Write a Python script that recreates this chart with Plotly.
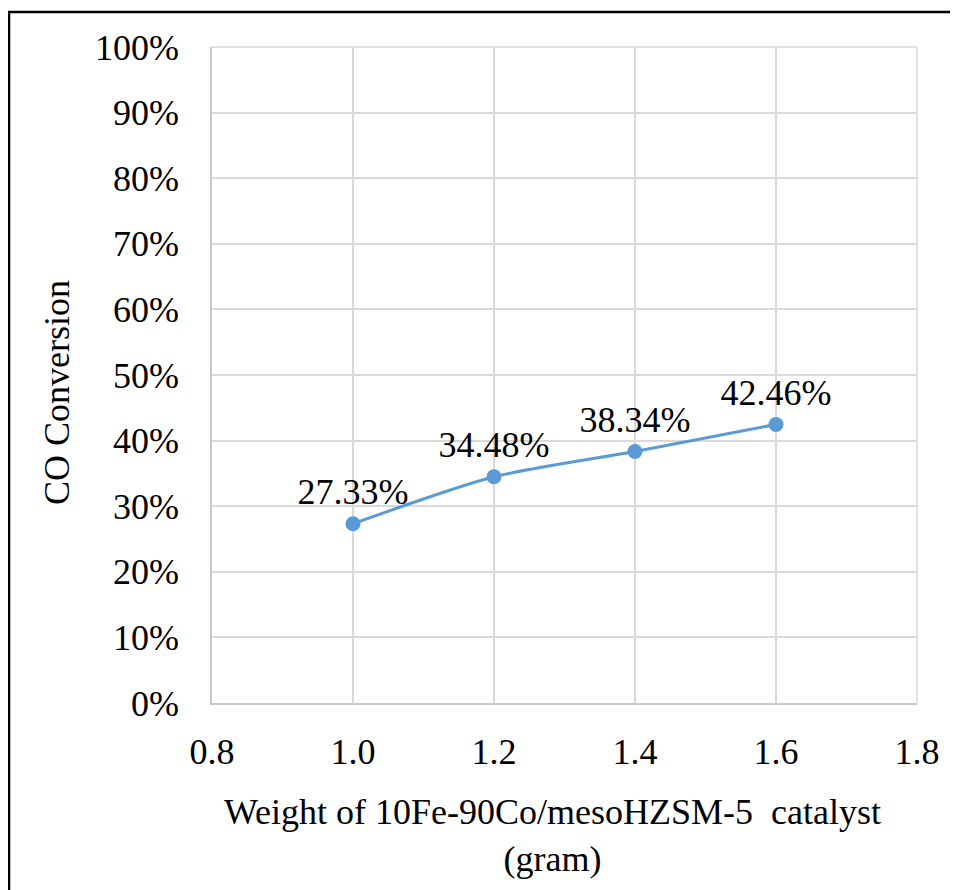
import plotly.graph_objects as go

weights = [1.0, 1.2, 1.4, 1.6]
conversion = [0.2733, 0.3448, 0.3834, 0.4246]
labels = ["27.33%", "34.48%", "38.34%", "42.46%"]
x_ticks = [0.8, 1.0, 1.2, 1.4, 1.6, 1.8]
x_ticktext = ["0.8", "1.0", "1.2", "1.4", "1.6", "1.8"]
y_ticks = [i / 10 for i in range(11)]
y_ticktext = [f"{i * 10}%" for i in range(11)]

FONT = "Times New Roman, Liberation Serif, serif"
BLUE = "#5B9BD5"
GRID = "#D9D9D9"

fig = go.Figure()
fig.add_trace(go.Scatter(
    x=weights, y=conversion,
    mode="lines+markers+text",
    line=dict(color=BLUE, width=3, shape="spline", smoothing=0.7),
    marker=dict(color=BLUE, size=15),
    text=labels, textposition="top center",
    textfont=dict(family=FONT, size=36, color="#000000"),
    cliponaxis=False,
    showlegend=False,
))

# page body has an 8px margin, so figure coords = screen coords - 8
OFF = 8
W, H = 950, 882
L, R, T, B = 212 - OFF, 41, 47 - OFF, 187
pw, ph = W - L - R, H - T - B

def px_x(px):
    return (px - OFF - L) / pw

def px_y(py):
    return (H - B - (py - OFF)) / ph

fig.update_layout(
    width=W, height=H,
    margin=dict(l=L, r=R, t=T, b=B),
    paper_bgcolor="white", plot_bgcolor="white",
    font=dict(family=FONT, size=36, color="#000000"),
    xaxis=dict(
        range=[0.8, 1.8], tickvals=x_ticks, ticktext=x_ticktext,
        showgrid=True, gridcolor=GRID, gridwidth=1.5,
        showline=True, linecolor="#C8C8C8", linewidth=1.5,
        zeroline=False, ticks="", ticklabelstandoff=16,
        tickfont=dict(family=FONT, size=36),
    ),
    yaxis=dict(
        range=[0, 1], tickvals=y_ticks, ticktext=y_ticktext,
        showgrid=True, gridcolor=GRID, gridwidth=1.5,
        showline=True, linecolor="#C8C8C8", linewidth=1.5,
        zeroline=False, ticks="", ticklabelstandoff=24,
        tickfont=dict(family=FONT, size=36),
    ),
    shapes=[
        dict(type="line", xref="paper", yref="paper",
             x0=1, x1=1, y0=0, y1=1, line=dict(color=GRID, width=1.5)),
        dict(type="line", xref="paper", yref="paper",
             x0=0, x1=1, y0=1, y1=1, line=dict(color=GRID, width=1.5)),
        dict(type="rect", xref="paper", yref="paper",
             x0=px_x(9), x1=px_x(956), y0=px_y(12), y1=px_y(905),
             line=dict(color="#000000", width=2.5), fillcolor="rgba(0,0,0,0)"),
    ],
    annotations=[
        dict(text="Weight of 10Fe-90Co/mesoHZSM-5  catalyst<br>(gram)",
             xref="paper", yref="paper", x=px_x(552), y=px_y(836),
             xanchor="center", yanchor="middle", showarrow=False,
             font=dict(family=FONT, size=36), align="center"),
        dict(text="CO Conversion", xref="paper", yref="paper",
             x=px_x(57), y=px_y(393), xanchor="center", yanchor="middle",
             showarrow=False, textangle=-90,
             font=dict(family=FONT, size=36)),
    ],
)

fig.write_html("out.html")
